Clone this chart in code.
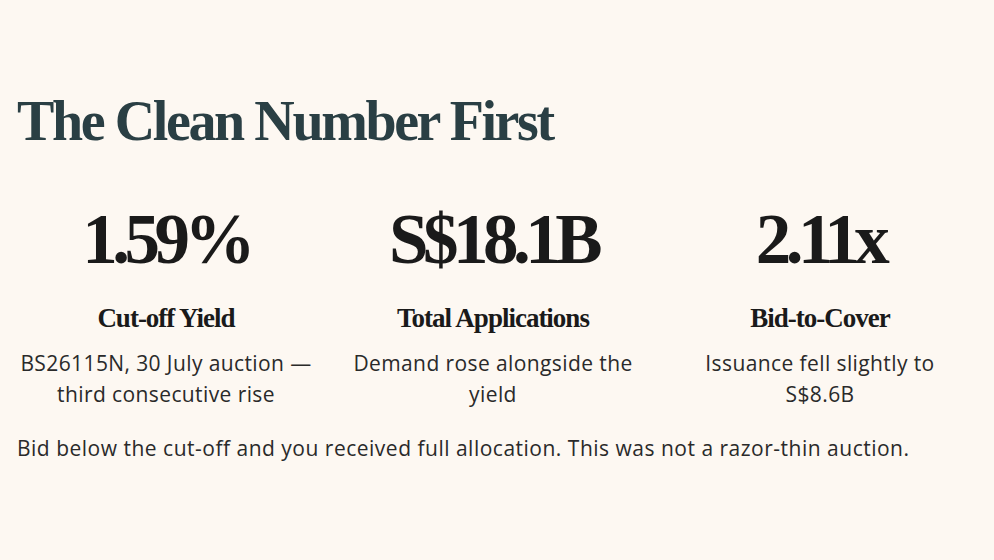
<!DOCTYPE html>
<html>
<head>
<meta charset="utf-8">
<script src="https://cdn.jsdelivr.net/npm/chart.js@4"></script>
<style>
  html, body { margin: 0; padding: 0; background: #fdf8f2; }
  body { width: 994px; height: 560px; overflow: hidden; font-family: "Open Sans", sans-serif; color: #1f1f1f; }
  .wrap { position: absolute; left: 17px; top: 0; width: 952px; }
  h1 { position: absolute; left: 0; top: 89px; margin: 0; font-family: "Liberation Serif", serif; font-weight: 700;
       font-size: 56px; letter-spacing: -2.4px; color: #2a3f44; white-space: nowrap; }
  .stats { position: absolute; left: 0; top: 195px; width: 952px; display: flex; gap: 29px; }
  .stat { width: 298px; text-align: center; }
  .num { font-family: "Liberation Serif", serif; font-weight: 700; font-size: 71px; line-height: 88px; letter-spacing: -5.5px; color: #1a1a1a; }
  .lbl { font-family: "Liberation Serif", serif; font-weight: 700; font-size: 27px; letter-spacing: -1px; margin-top: 20px; color: #1a1a1a; }
  .desc { font-size: 21px; letter-spacing: 0.4px; line-height: 31px; margin-top: 14px; color: #2a2a2a; }
  .note { position: absolute; left: 0; top: 434px; font-size: 21px; letter-spacing: 0.5px; color: #2a2a2a; white-space: nowrap; }
</style>
</head>
<body>
<div class="wrap">
  <h1 id="title"></h1>
  <div class="stats" id="stats"></div>
  <div class="note" id="note"></div>
</div>
<script>
const title = 'The Clean Number First';
const values = ['1.59%', 'S$18.1B', '2.11x'];
const labels = ['Cut-off Yield', 'Total Applications', 'Bid-to-Cover'];
const notes = [
  'BS26115N, 30 July auction —<br>third consecutive rise',
  'Demand rose alongside the<br>yield',
  'Issuance fell slightly to<br>S$8.6B'
];
const footer = 'Bid below the cut-off and you received full allocation. This was not a razor-thin auction.';

document.getElementById('title').textContent = title;
document.getElementById('note').textContent = footer;

const statsDiv = document.getElementById('stats');
values.forEach((v, i) => {
  const div = document.createElement('div');
  div.className = 'stat';
  div.innerHTML = `<div class="num">${v}</div><div class="lbl">${labels[i]}</div><div class="desc">${notes[i]}</div>`;
  statsDiv.appendChild(div);
});
</script>
</body>
</html>
